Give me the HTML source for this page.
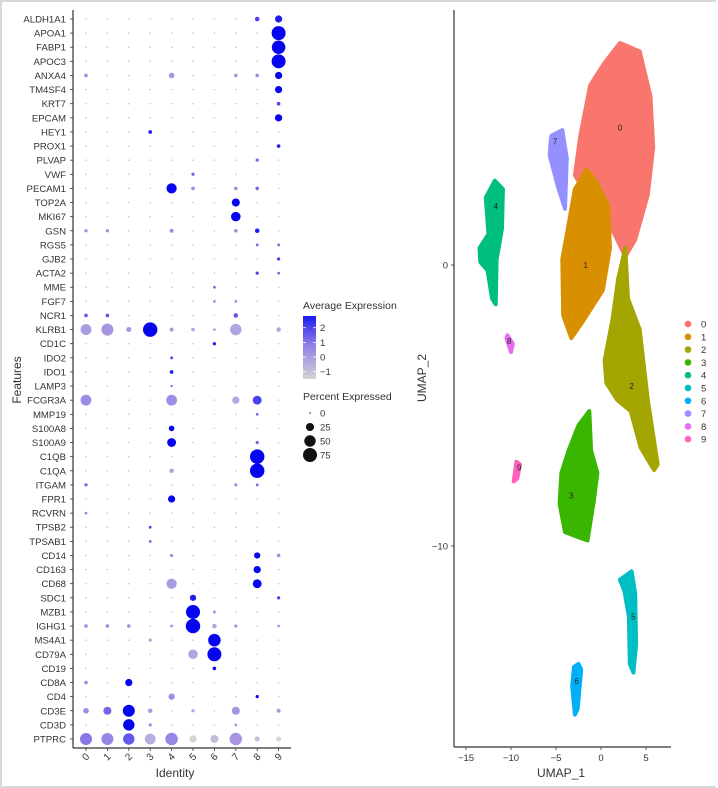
<!DOCTYPE html>
<html><head><meta charset="utf-8"><style>
html,body{margin:0;padding:0;background:#fff;}
body{width:718px;height:788px;overflow:hidden;font-family:"Liberation Sans",sans-serif;}
#frame{position:absolute;left:0;top:0;width:714px;height:784px;border:2px solid #d8d8d8;border-right:none;}
svg{position:absolute;left:0;top:0;}
</style></head><body>
<div id="frame"></div>
<svg id="chart" width="718" height="788"></svg>
<script>
const genes=["ALDH1A1","APOA1","FABP1","APOC3","ANXA4","TM4SF4","KRT7","EPCAM","HEY1","PROX1","PLVAP","VWF","PECAM1","TOP2A","MKI67","GSN","RGS5","GJB2","ACTA2","MME","FGF7","NCR1","KLRB1","CD1C","IDO2","IDO1","LAMP3","FCGR3A","MMP19","S100A8","S100A9","C1QB","C1QA","ITGAM","FPR1","RCVRN","TPSB2","TPSAB1","CD14","CD163","CD68","SDC1","MZB1","IGHG1","MS4A1","CD79A","CD19","CD8A","CD4","CD3E","CD3D","PTPRC"];
const identities=["0","1","2","3","4","5","6","7","8","9"];
// notable entries: gene -> [[cluster, pctExpressed, avgExpression], ...]; others default small
const notable={
ALDH1A1:[[8,8,1.5],[9,20,2]],APOA1:[[9,75,2.5]],FABP1:[[9,70,2.5]],APOC3:[[9,75,2.5]],
ANXA4:[[0,5,0.5],[4,12,0.3],[7,5,0.3],[8,5,0.5],[9,20,2.5]],TM4SF4:[[9,20,2.5]],KRT7:[[9,5,1.5]],EPCAM:[[9,20,2.5]],
HEY1:[[3,5,2]],PROX1:[[9,5,2]],PLVAP:[[8,4,1]],VWF:[[5,4,1]],
PECAM1:[[4,40,2.5],[5,5,0.5],[7,5,0.5],[8,5,1]],TOP2A:[[7,25,2.5]],MKI67:[[7,35,2.5]],
GSN:[[0,4,0.5],[1,4,0.5],[4,6,0.5],[7,5,0.5],[8,8,2]],RGS5:[[8,3,1],[9,3,1]],GJB2:[[9,4,1.5]],
ACTA2:[[8,4,1.5],[9,3,1]],MME:[[6,3,1]],FGF7:[[6,3,0.5],[7,3,0.5]],NCR1:[[0,5,1.2],[1,5,1.2],[7,8,1.2]],
KLRB1:[[0,45,0.2],[1,55,0.3],[2,10,0.2],[3,80,2.5],[4,6,0.2],[5,5,0],[6,3,0],[7,50,0],[9,8,0]],
CD1C:[[6,4,2]],IDO2:[[4,3,1.5]],IDO1:[[4,5,2]],LAMP3:[[4,2,1]],
FCGR3A:[[0,45,0.5],[4,45,0.5],[7,20,0],[8,30,1.5]],MMP19:[[8,3,1]],S100A8:[[4,12,2.5]],S100A9:[[4,30,2.5],[8,4,1]],
C1QB:[[8,80,2.5]],C1QA:[[4,8,0],[8,80,2.5]],ITGAM:[[0,4,1],[7,4,0.5],[8,3,1]],FPR1:[[4,20,2.5]],RCVRN:[[0,3,0.5]],
TPSB2:[[3,3,1.5]],TPSAB1:[[3,3,1]],CD14:[[4,4,0.5],[8,15,2.5],[9,5,0.5]],CD163:[[8,20,2.5]],CD68:[[4,40,0.2],[8,30,2.5]],
SDC1:[[5,15,2],[9,4,1.5]],MZB1:[[5,75,2.5],[6,3,0.5]],
IGHG1:[[0,5,0.5],[1,5,0.5],[2,5,0.5],[4,3,0.5],[5,80,2.5],[6,8,0],[7,4,0.5],[9,3,0.3]],
MS4A1:[[3,4,0],[6,60,2.5]],CD79A:[[5,35,0],[6,75,2.5]],CD19:[[6,5,2.5]],CD8A:[[0,5,0.5],[2,20,2.5]],
CD4:[[4,15,0.5],[8,4,2.5]],CD3E:[[0,12,0.5],[1,25,1],[2,55,2.5],[3,8,0.2],[5,4,0],[7,25,0.3],[9,6,0.2]],
CD3D:[[2,50,2.5],[3,4,0.5],[7,3,0.3]],
PTPRC:[[0,55,0.8],[1,55,0.6],[2,50,1.2],[3,45,-0.2],[4,60,0.6],[5,20,-1],[6,25,-0.5],[7,60,0.3],[8,10,-0.5],[9,10,-1]]
};
const colorTicks=[2,1,0,-1];
const sizeTicks=[0,25,50,75];
const umapXTicks=[-15,-10,-5,0,5];
const umapYTicks=[0,-10];
const clusterNames=["0","1","2","3","4","5","6","7","8","9"];
const clusterColors=["#F8766D","#D89000","#A3A500","#39B600","#00BF7D","#00BFC4","#00B0F6","#9590FF","#E76BF3","#FF62BC"];
// cluster label centroids in UMAP coordinates
const centroidX=[2.1,-1.7,3.4,-3.3,-11.7,3.6,-2.7,-5.1,-10.2,-9.1];
const centroidY=[4.9,0,-4.3,-8.2,2.1,-12.5,-14.8,4.4,-2.7,-7.2];
// cluster outlines in UMAP coordinates (x list, y list)
const shapeX=[
[2.1,4.3,5.5,5.8,5.2,3.8,2.7,1.2,-0.1,-1.8,-2.9,-2.3,-1.2,0.4],
[-2.9,-4.3,-4.2,-3.3,-2,0.2,1,0.8,-0.4,-1.6],
[2.7,3.0,4.3,5.2,6.3,5.9,4.4,3.3,1.8,0.6,0.4,1.3,1.9],
[-1.3,-1.1,-0.4,-0.8,-1.5,-2.4,-4.0,-4.6,-4.4,-3.6,-2.5],
[-11.8,-10.9,-11.0,-11.6,-11.7,-12.1,-12.6,-13.4,-13.5,-12.5,-12.8],
[3.4,3.8,3.9,3.6,3.2,3.1,2.6,2.1],
[-2.5,-2.2,-2.6,-2.9,-3.2,-3.0],
[-5.5,-4.3,-3.8,-4.0,-4.8,-5.7,-5.6],
[-10.4,-9.8,-10.0,-10.5],
[-9.4,-9.0,-9.3,-9.7]];
const shapeY=[
[7.9,7.6,6.0,4.2,2.5,0.9,0.3,1.3,2.0,2.6,3.2,4.6,6.4,7.2],
[2.7,0.2,-1.8,-2.6,-2.0,-0.9,0.6,2.1,2.9,3.4],
[0.6,-1.2,-2.3,-4.8,-7.1,-7.3,-6.5,-5.2,-4.8,-4.2,-3.4,-1.9,-0.5],
[-5.2,-6.6,-7.4,-8.4,-9.8,-9.7,-9.5,-8.5,-7.4,-6.6,-5.7],
[3.0,2.7,1.3,0.2,-1.4,-1.2,-0.2,0.1,0.6,1.1,2.4],
[-10.9,-11.7,-13.5,-14.5,-14.2,-12.5,-11.6,-11.2],
[-14.2,-14.4,-15.8,-16.0,-15.0,-14.3],
[4.6,4.8,3.8,2.0,2.8,3.9,4.4],
[-2.5,-2.8,-3.1,-2.6],
[-7.0,-7.1,-7.6,-7.7]];

const NS="http://www.w3.org/2000/svg";
const svg=document.getElementById('chart');
function mk(tag,attrs,parent){const e=document.createElementNS(NS,tag);for(const k in attrs)e.setAttribute(k,attrs[k]);(parent||svg).appendChild(e);return e;}
function txt(s,attrs,parent){const e=mk('text',attrs,parent);e.textContent=s;return e;}

// ---------- dot plot ----------
const dp=mk('g',{});


const colX=i=>86+i*21.4;
const rowY=j=>19+j*(720/(genes.length-1));
const rScale=p=>Math.max(0.7,Math.sqrt(p/75)*7);
function mix(a,b,t){return a.map((c,k)=>Math.round(c+(b[k]-c)*t));}
function expColor(v){
  const g=[211,211,211],m=[160,140,230],b=[5,5,240];
  let c;
  if(v<=0.5){c=mix(g,m,Math.max(0,(v+1)/1.5));}
  else{c=mix(m,b,Math.min(1,(v-0.5)/1.8));}
  return 'rgb('+c.join(',')+')';}
genes.forEach((g,j)=>{
  const y=rowY(j);
  const lab=txt(g,{x:66,y:y+3.5,'text-anchor':'end','font-size':9.6,fill:'#333'},dp);
  
  
  mk('line',{x1:70,x2:73,y1:y,y2:y,stroke:'#333','stroke-width':0.8},dp);
  const pct=identities.map(()=>1),exp=identities.map(()=>0);
  (notable[g]||[]).forEach(([c,p,e])=>{pct[c]=p;exp[c]=e;});
  identities.forEach((id,i)=>{
    const d=mk('circle',{cx:colX(i),cy:y,r:rScale(pct[i]),fill:pct[i]<=1?'#c4c4d0':expColor(exp[i])},dp);
    
    
  });
});
mk('line',{x1:73,x2:73,y1:10,y2:748,stroke:'#333','stroke-width':1.2},dp);
mk('line',{x1:73,x2:291,y1:748,y2:748,stroke:'#333','stroke-width':1.2},dp);
identities.forEach((id,i)=>{
  mk('line',{x1:colX(i),x2:colX(i),y1:748,y2:751,stroke:'#333','stroke-width':0.8},dp);
  const t=txt(id,{x:colX(i),y:760,'text-anchor':'middle','font-size':10,fill:'#333',transform:'rotate(-45 '+colX(i)+' 757)'},dp);
  
  
});
const xl=txt('Identity',{x:175,y:777,'text-anchor':'middle','font-size':12,fill:'#333'},dp);


const yl=txt('Features',{x:21,y:380,'text-anchor':'middle','font-size':12,fill:'#333',transform:'rotate(-90 21 380)'},dp);



// legends
const lg=mk('g',{});


txt('Average Expression',{x:303,y:309,'font-size':10.5,fill:'#333'},lg);
const defs=mk('defs',{});
const grad=mk('linearGradient',{id:'cg',x1:0,y1:0,x2:0,y2:1},defs);
mk('stop',{offset:'0','stop-color':'#1a1af0'},grad);mk('stop',{offset:'0.45','stop-color':'#8f7de6'},grad);mk('stop',{offset:'1','stop-color':'#d3d3d3'},grad);
const cb=mk('rect',{x:303,y:316,width:13,height:63,fill:'url(#cg)'},lg);


const cbY=v=>379-(v+1.5)/4.3*63;
colorTicks.forEach(v=>{const y=cbY(v);
  mk('line',{x1:303,x2:306,y1:y,y2:y,stroke:'#fff','stroke-width':0.8},lg);
  mk('line',{x1:313,x2:316,y1:y,y2:y,stroke:'#fff','stroke-width':0.8},lg);
  txt(v<0?'\u2212'+Math.abs(v):String(v),{x:320,y:y+3.5,'font-size':9.5,fill:'#333'},lg);});
txt('Percent Expressed',{x:303,y:400,'font-size':10.5,fill:'#333'},lg);
sizeTicks.forEach((p,k)=>{const y=413+k*14;
  mk('circle',{cx:310,cy:y,r:rScale(p),fill:'#111'},lg);
  txt(String(p),{x:320,y:y+3.5,'font-size':9.5,fill:'#333'},lg);});

// ---------- UMAP ----------
const um=mk('g',{});


const ux=v=>601+v*9.0;
const uy=v=>265-v*28.1;
clusterNames.forEach((c,k)=>{
  const pts=shapeX[k].map((x,i)=>ux(x).toFixed(1)+','+uy(shapeY[k][i]).toFixed(1)).join(' ');
  const p=mk('polygon',{points:pts,fill:clusterColors[k],stroke:clusterColors[k],'stroke-width':4,'stroke-linejoin':'round'},um);
  
  
});
clusterNames.forEach((c,k)=>{
  const t=txt(c,{x:ux(centroidX[k]),y:uy(centroidY[k])+3,'text-anchor':'middle','font-size':8,fill:'#222'},um);
  
  
});
mk('line',{x1:454,x2:454,y1:10,y2:747,stroke:'#333','stroke-width':1.2},um);
mk('line',{x1:454,x2:671,y1:747,y2:747,stroke:'#333','stroke-width':1.2},um);
umapXTicks.forEach(v=>{const x=ux(v);
  mk('line',{x1:x,x2:x,y1:747,y2:750,stroke:'#333','stroke-width':0.8},um);
  const t=txt(v<0?'\u2212'+Math.abs(v):String(v),{x:x,y:761,'text-anchor':'middle','font-size':9.5,fill:'#333'},um);
  
  });
umapYTicks.forEach(v=>{const y=uy(v);
  mk('line',{x1:451,x2:454,y1:y,y2:y,stroke:'#333','stroke-width':0.8},um);
  const t=txt(v<0?'\u2212'+Math.abs(v):String(v),{x:448,y:y+3.5,'text-anchor':'end','font-size':9.5,fill:'#333'},um);
  
  });
const u1=txt('UMAP_1',{x:561,y:777,'text-anchor':'middle','font-size':12,fill:'#333'},um);


const u2=txt('UMAP_2',{x:426,y:378,'text-anchor':'middle','font-size':12,fill:'#333',transform:'rotate(-90 426 378)'},um);


clusterNames.forEach((c,k)=>{const y=324+k*12.8;
  const e=mk('g',{},um);
  
  
  mk('circle',{cx:688,cy:y,r:3.3,fill:clusterColors[k]},e);
  txt(c,{x:701,y:y+3.5,'font-size':9.5,fill:'#333'},e);});
</script>
</body></html>
